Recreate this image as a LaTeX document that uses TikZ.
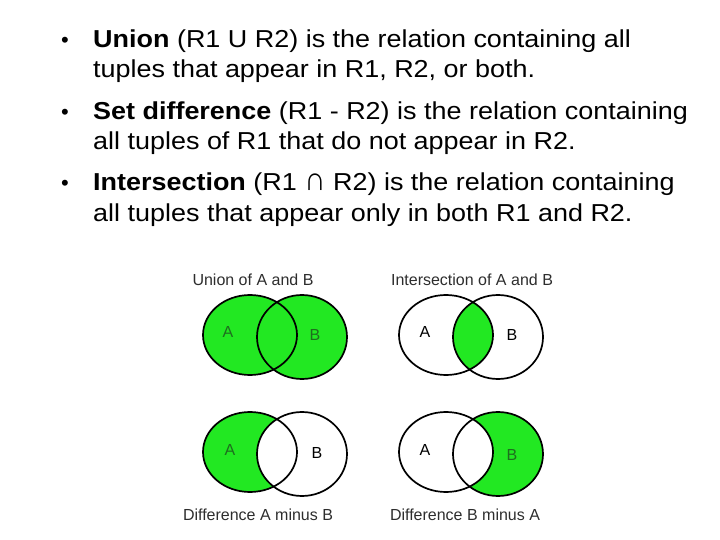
\documentclass[tikz,border=0pt]{standalone}
\usepackage{fontspec}
\setmainfont{Liberation Sans}
\newfontfamily\bodyfont{Liberation Sans}[FakeStretch=1.1]
\usepackage{tikz}
\usetikzlibrary{positioning}
\definecolor{venngreen}{RGB}{34,232,34}
\definecolor{labelgreen}{RGB}{30,110,30}
\definecolor{titlegray}{RGB}{45,45,45}
\tikzstyle{line}=[anchor=base west,inner sep=0pt,font=\bodyfont\fontsize{24.5}{30}\selectfont]
\tikzstyle{bullet}=[anchor=base west,inner sep=0pt,font=\fontsize{22}{30}\selectfont]
\tikzstyle{title}=[inner sep=0pt,text=titlegray,font=\fontsize{16}{19}\selectfont]
\tikzstyle{setlbl}=[inner sep=0pt,font=\fontsize{16}{19}\selectfont]
\tikzstyle{rim}=[draw=black,line width=1.7pt]
\def\setA{(0,0) ellipse (47 and 40)}
\def\setB{(52,2) ellipse (45 and 42)}

\begin{document}
\begin{tikzpicture}[x=1pt,y=-1pt]
\useasboundingbox (0,0) rectangle (720,540);
%texte
\node[bullet] (b1) at (61,48) {•};
\node[line] (u1) at (93,48) {\textbf{Union} (R1 U R2) is the relation containing all};
\node[line] (u2) at (93,78) {tuples that appear in R1, R2, or both.};
\node[bullet] (b2) at (61,120) {•};
\node[line] (d1) at (93,120) {\textbf{Set difference} (R1 - R2) is the relation containing};
\node[line] (d2) at (93,150) {all tuples of R1 that do not appear in R2.};
\node[bullet] (b3) at (61,191) {•};
\node[line] (i1) at (93,191) {\textbf{Intersection} (R1 \scalebox{1.1}[1.35]{∩} R2) is the relation containing};
\node[line] (i2) at (93,222) {all tuples that appear only in both R1 and R2.};
%union
\begin{scope}[shift={(250,335)}]
\fill[venngreen] \setA;
\fill[venngreen] \setB;
\draw[rim] \setA;
\draw[rim] \setB;
\node[setlbl,text=labelgreen] (ua) at (-22,-3) {A};
\node[setlbl,text=labelgreen] (ub) at (65,0) {B};
\end{scope}
\node[title] (tu) at (253,280) {Union of A and B};
%intersection
\begin{scope}[shift={(446,335)}]
\begin{scope}
\clip \setA;
\fill[venngreen] \setB;
\end{scope}
\draw[rim] \setA;
\draw[rim] \setB;
\node[setlbl] (ia) at (-21,-3) {A};
\node[setlbl] (ib) at (66,0) {B};
\end{scope}
\node[title] (ti) at (472,280) {Intersection of A and B};
%difference A-B
\begin{scope}[shift={(250,452)}]
\fill[venngreen] \setA;
\fill[white] \setB;
\draw[rim] \setA;
\draw[rim] \setB;
\node[setlbl,text=labelgreen] (da) at (-20,-2) {A};
\node[setlbl] (db) at (67,1) {B};
\end{scope}
\node[title] (tda) at (258,515) {Difference A minus B};
%difference B-A
\begin{scope}[shift={(446,452)}]
\fill[venngreen] \setB;
\fill[white] \setA;
\draw[rim] \setA;
\draw[rim] \setB;
\node[setlbl] (ea) at (-21,-2) {A};
\node[setlbl,text=labelgreen] (eb) at (66,3) {B};
\end{scope}
\node[title] (tdb) at (465,515) {Difference B minus A};
\end{tikzpicture}
\end{document}
